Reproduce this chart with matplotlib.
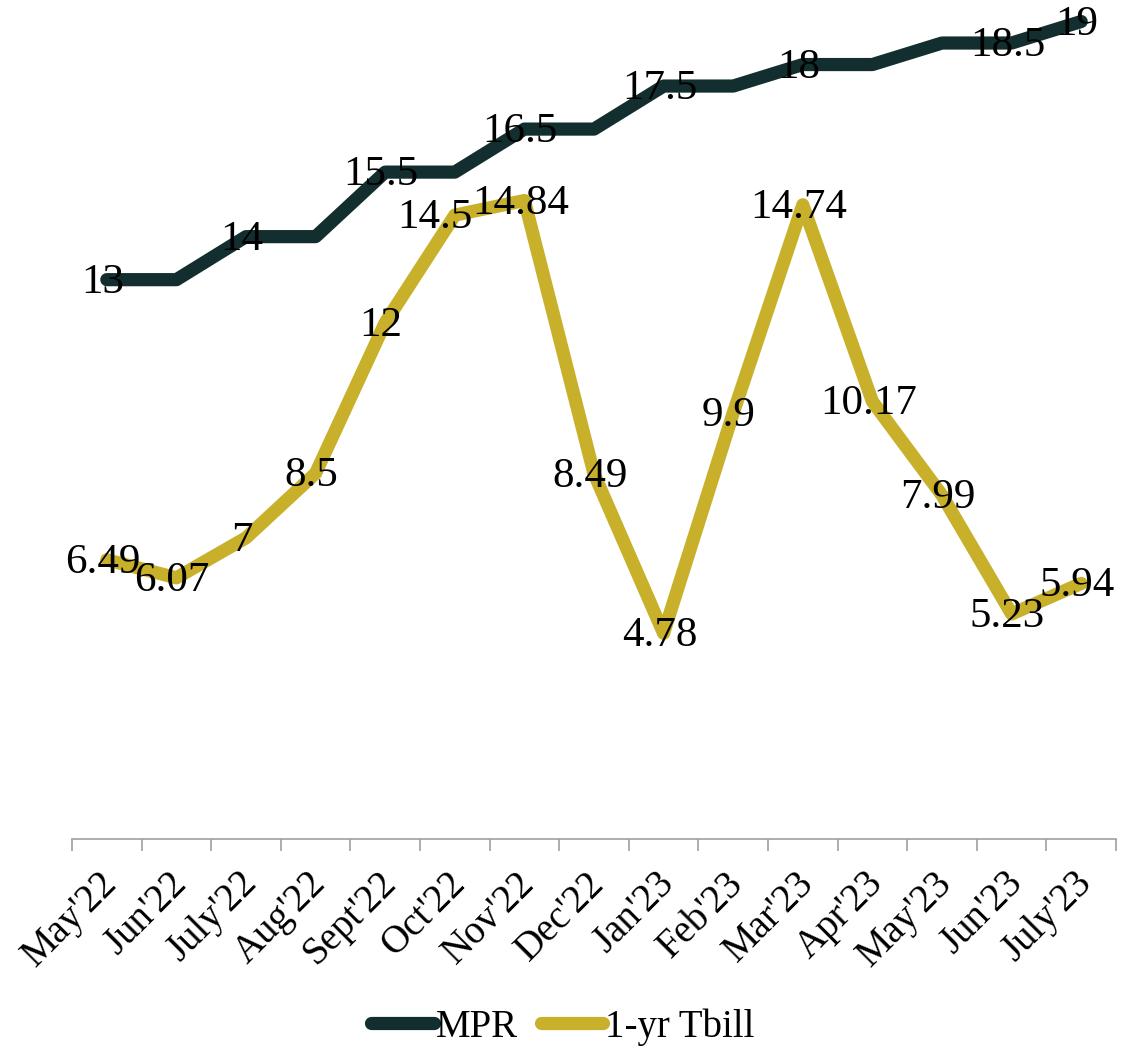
import matplotlib
matplotlib.use("Agg")
import matplotlib.pyplot as plt
import matplotlib.transforms as mtransforms
import numpy as np

months = ["May'22", "Jun'22", "July'22", "Aug'22", "Sept'22", "Oct'22", "Nov'22",
          "Dec'22", "Jan'23", "Feb'23", "Mar'23", "Apr'23", "May'23", "Jun'23", "July'23"]
mpr = [13, 13, 14, 14, 15.5, 15.5, 16.5, 16.5, 17.5, 17.5, 18, 18, 18.5, 18.5, 19]
tbill = [6.49, 6.07, 7, 8.5, 12, 14.5, 14.84, 8.49, 4.78, 9.9, 14.74, 10.17, 7.99, 5.23, 5.94]
mpr_label_idx = [0, 2, 4, 6, 8, 10, 13, 14]

MPR_C = "#122e2e"
TB_C = "#c9b02a"

plt.rcParams['font.family'] = ['Liberation Serif', 'DejaVu Serif']

fig = plt.figure(figsize=(11.26, 10.52), dpi=100)
ax = fig.add_axes([72/1126, 1-839/1052, (1116-72)/1126, 839/1052])

x = np.arange(len(months))
ax.plot(x, mpr, color=MPR_C, lw=9.5, solid_joinstyle='round', solid_capstyle='round', label='MPR')
ax.plot(x, tbill, color=TB_C, lw=9.5, solid_joinstyle='round', solid_capstyle='round', label='1-yr Tbill')

fs = 28
dfs = 31
tb_dx = {5: -11}
for i in mpr_label_idx:
    ax.annotate(f"{mpr[i]:g}", (x[i], mpr[i]), xytext=(-3, -2), textcoords='offset points',
                ha='center', va='center', fontsize=dfs, color='black')
for i, v in enumerate(tbill):
    ax.annotate(f"{v:g}", (x[i], v), xytext=(-3 + tb_dx.get(i, 0), -2), textcoords='offset points',
                ha='center', va='center', fontsize=dfs, color='black')

ax.set_xlim(-0.5, len(months) - 0.5)
ax.set_ylim(0, 19.5)
ax.set_yticks([])
for s in ['top', 'right', 'left']:
    ax.spines[s].set_visible(False)
ax.spines['bottom'].set_color('#a0a0a0')
ax.spines['bottom'].set_linewidth(1.2)

ax.set_xticks(x)
ax.set_xticklabels([])
ax.tick_params(axis='x', which='major', length=0)
ax.set_xticks(np.arange(-0.5, len(months), 1), minor=True)
ax.tick_params(axis='x', which='minor', length=8.5, width=1.2, color='#a0a0a0', direction='out')

trans = ax.get_xaxis_transform() + mtransforms.ScaledTranslation(-8/100, -26/100, fig.dpi_scale_trans)
for xi, m in zip(x, months):
    ax.text(xi, 0, m, transform=trans, rotation=45, ha='right', va='top',
            rotation_mode='anchor', fontsize=fs, color='black')

fig.legend(loc='center', bbox_to_anchor=(0.5, 1-1027/1052), ncol=2, frameon=False,
           fontsize=fs, handlelength=1.6, handletextpad=0.05, columnspacing=0.6)

fig.savefig('out.png', dpi=100)
